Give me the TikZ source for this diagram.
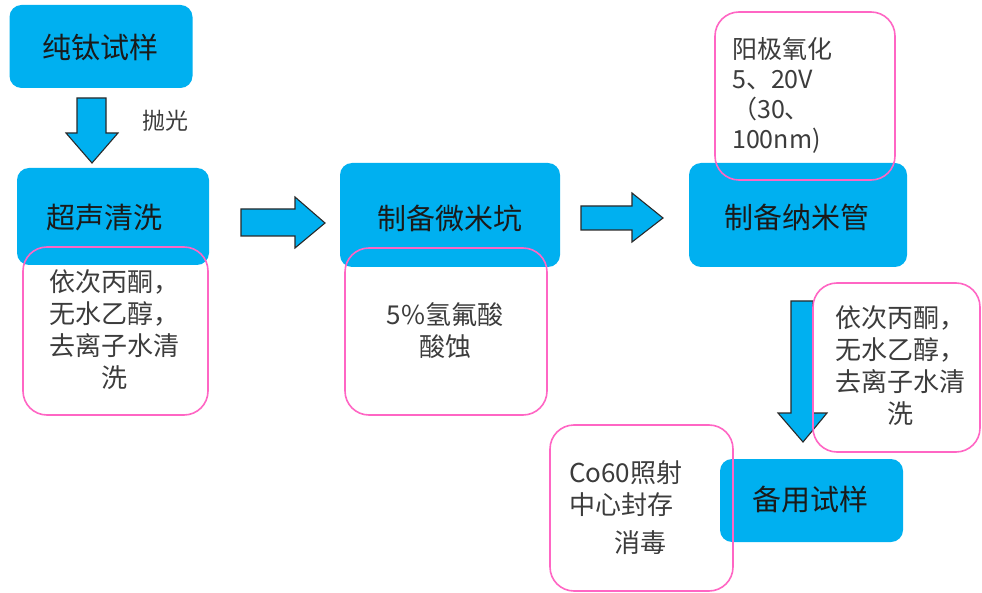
\documentclass[tikz,border=0pt]{standalone}
\usepackage{fontspec}
\setmainfont{Noto Sans CJK SC}
\definecolor{boxblue}{HTML}{00B0F0}
\definecolor{pinkline}{HTML}{FF66C4}
\definecolor{txt}{HTML}{1A1A1A}
\definecolor{arrowline}{HTML}{2A2A2A}
\tikzset{
  bluebox/.style={fill=boxblue, draw=none, rounded corners=12pt, inner sep=0pt},
  pinkbox/.style={draw=pinkline, line width=1.6pt, rounded corners=24pt, fill=none},
  maintext/.style={text=txt, font=\fontsize{29}{33}\selectfont, inner sep=0pt},
  notetext/.style={text=txt!85, font=\fontsize{26}{32}\selectfont, inner sep=0pt},
  blockarrow/.style={fill=boxblue, draw=arrowline, line width=1.1pt, line join=miter},
}
\begin{document}
\begin{tikzpicture}[x=1pt,y=-1pt]
\useasboundingbox[fill=white] (0,0) rectangle (982,593);

% blue boxes
\node[bluebox, minimum width=183pt, minimum height=83pt] (b1) at (101,46.5) {};
\node[bluebox, minimum width=192pt, minimum height=97pt] (b2) at (113,216.5) {};
\node[bluebox, minimum width=220pt, minimum height=104pt] (b3) at (450,215) {};
\node[bluebox, minimum width=218pt, minimum height=104pt] (b4) at (798,215) {};
\node[bluebox, minimum width=183pt, minimum height=83pt] (b5) at (811.5,500.5) {};

% block arrows
\draw[blockarrow] (77,98) -- (106,98) -- (106,133) -- (118,133) -- (92,163) -- (66,133) -- (77,133) -- cycle;
\draw[blockarrow] (241,209) -- (295,209) -- (295,197) -- (325,223) -- (295,248) -- (295,236) -- (241,236) -- cycle;
\draw[blockarrow] (581,206) -- (632,206) -- (632,193) -- (663,218) -- (632,242) -- (632,230) -- (581,230) -- cycle;
\draw[blockarrow] (791,301) -- (813,301) -- (813,413) -- (827,413) -- (803,442) -- (778,413) -- (791,413) -- cycle;

% pink note boxes
\draw[pinkbox] (23,247) rectangle (208,415);
\draw[pinkbox] (345,248) rectangle (547,415);
\draw[pinkbox] (715,12) rectangle (895,180);
\draw[pinkbox] (813,283) rectangle (980,452);
\draw[pinkbox] (550,425) rectangle (733,591);

% main texts
\node[maintext] (t1) at (100,47) {纯钛试样};
\node[maintext] (t2) at (104,218) {超声清洗};
\node[maintext] (t3) at (450,218) {制备微米坑};
\node[maintext] (t4) at (797,217) {制备纳米管};
\node[maintext] (t5) at (810,500) {备用试样};

% labels
\node[notetext, font=\fontsize{23}{26}\selectfont] (l1) at (165,121) {抛光};

\node[notetext, align=center] (n1) at (114,330) {依次丙酮，\\无水乙醇，\\去离子水清\\洗};
\node[notetext, align=center] (n2) at (445,331) {5\%氢氟酸\\酸蚀};
\node[notetext, align=left, anchor=north west, font=\fontsize{25}{30}\selectfont] (n3) at (732,37) {阳极氧化\\5、20V\\（30、\\100nm)};
\node[notetext, align=center] (n4) at (900,366) {依次丙酮，\\无水乙醇，\\去离子水清\\洗};
\node[notetext, align=left, anchor=west] (n5) at (569,489) {Co60照射\\中心封存};
\node[notetext] (n6) at (640,543) {消毒};
\end{tikzpicture}
\end{document}
